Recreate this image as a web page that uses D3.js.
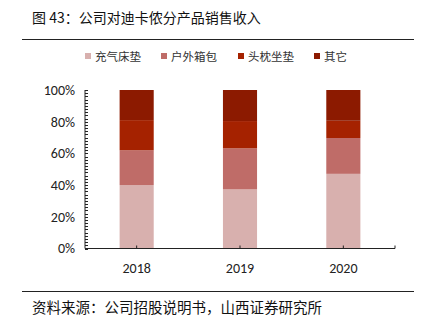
<!DOCTYPE html>
<html><head><meta charset="utf-8">
<script src="https://cdn.jsdelivr.net/npm/d3@7"></script>
<style>body{margin:0;background:#fff;} svg{display:block;}</style>
</head><body>
<svg id="c" width="425" height="324"></svg>
<script>
const title = "图 43：公司对迪卡侬分产品销售收入";
const source = "资料来源：公司招股说明书，山西证券研究所";
const years = ["2018", "2019", "2020"];
const seriesNames = ["充气床垫", "户外箱包", "头枕坐垫", "其它"];
const seriesColors = ["#D8B0AE", "#BF6C68", "#A52200", "#8C1A00"];
const inflatableMattress = [40.0, 37.3, 47.1];
const outdoorBags = [22.0, 25.9, 22.6];
const headrestCushion = [19.0, 17.2, 10.9];
const others = [19.0, 19.6, 19.4];
const yTicks = [0, 20, 40, 60, 80, 100];

(function () {
const series = [inflatableMattress, outdoorBags, headrestCushion, others];
const rows = years.map((yr, i) => {
  const r = {year: yr};
  seriesNames.forEach((n, k) => r[n] = series[k][i]);
  return r;
});
const stacked = d3.stack().keys(seriesNames)(rows);

const svg = d3.select("#c");
const font = "'Noto Sans CJK SC', 'Noto Sans', sans-serif";
const numFont = "Carlito, Calibri, 'Open Sans', 'Liberation Sans', sans-serif";

svg.append("text").attr("x", 32).attr("y", 23).attr("font-family", font)
  .attr("font-size", 14).attr("fill", "#111").text(title);
svg.append("line").attr("x1", 22).attr("x2", 414).attr("y1", 39.5).attr("y2", 39.5)
  .attr("stroke", "#222").attr("stroke-width", 1);
svg.append("line").attr("x1", 22).attr("x2", 414).attr("y1", 291.5).attr("y2", 291.5)
  .attr("stroke", "#222").attr("stroke-width", 1);
svg.append("text").attr("x", 32).attr("y", 313).attr("font-family", font)
  .attr("font-size", 14.5).attr("fill", "#111").text(source);

// legend
const legX = [85, 161, 238, 314];
const leg = svg.append("g");
seriesNames.forEach((n, i) => {
  leg.append("rect").attr("x", legX[i]).attr("y", 53).attr("width", 6).attr("height", 6)
    .attr("fill", seriesColors[i]);
  leg.append("text").attr("x", legX[i] + 10).attr("y", 60.5).attr("font-family", font)
    .attr("font-size", 11.5).attr("fill", "#333").text(n);
});

const mLeft = 85, mRight = 395, mTop = 90, mBottom = 248.5;
const x = d3.scaleBand().domain(years).range([mLeft, mRight]).paddingInner(0.67).paddingOuter(0.335);
const y = d3.scaleLinear().domain([0, 100]).range([mBottom, mTop]);

svg.append("g").selectAll("g").data(stacked).join("g")
  .attr("fill", (d, i) => seriesColors[i])
  .selectAll("rect").data(d => d).join("rect")
  .attr("x", d => x(d.data.year))
  .attr("width", x.bandwidth())
  .attr("y", d => y(d[1]))
  .attr("height", d => y(d[0]) - y(d[1]));

// y axis
const yAxis = svg.append("g").attr("transform", `translate(${mLeft},0)`);
yAxis.append("line").attr("x1", 0).attr("x2", 0).attr("y1", mTop).attr("y2", mBottom)
  .attr("stroke", "#222");
const minor = d3.range(0, 101, 2);
yAxis.selectAll("line.m").data(minor).join("line").attr("class", "m")
  .attr("x1", 0).attr("x2", 3).attr("y1", d => Math.round(y(d)) + 0.5).attr("y2", d => Math.round(y(d)) + 0.5)
  .attr("stroke", "#222");
yAxis.selectAll("text").data(yTicks).join("text")
  .attr("x", -10).attr("y", d => y(d)).attr("dy", "0.35em").attr("text-anchor", "end")
  .attr("font-family", numFont).attr("font-size", 14).attr("fill", "#222")
  .text(d => d + "%");

// x axis
const xAxis = svg.append("g").attr("transform", `translate(0,${mBottom})`);
xAxis.append("line").attr("x1", mLeft).attr("x2", mRight).attr("y1", 0).attr("y2", 0)
  .attr("stroke", "#222");
xAxis.selectAll("line.t").data(years).join("line").attr("class", "t")
  .attr("x1", d => x(d) + x.bandwidth() / 2).attr("x2", d => x(d) + x.bandwidth() / 2)
  .attr("y1", 0).attr("y2", -3).attr("stroke", "#222");
xAxis.append("line").attr("x1", mRight).attr("x2", mRight).attr("y1", 0).attr("y2", -3).attr("stroke", "#222");
xAxis.selectAll("text").data(years).join("text")
  .attr("x", d => x(d) + x.bandwidth() / 2).attr("y", 24).attr("text-anchor", "middle")
  .attr("font-family", numFont).attr("font-size", 14).attr("fill", "#222").text(d => d);
})();
</script>
</body></html>
